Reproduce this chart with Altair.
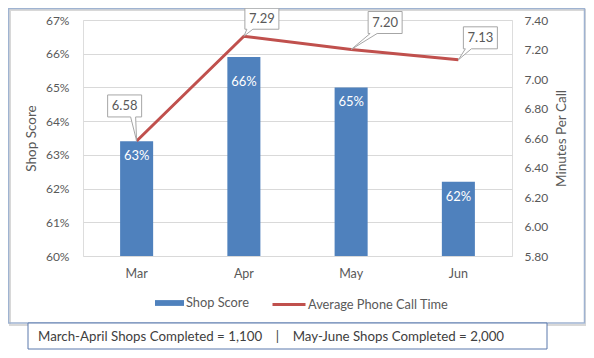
import altair as alt
import pandas as pd

# ---- data ----
months = ["Mar", "Apr", "May", "Jun"]
shop_score = [0.634, 0.659, 0.650, 0.622]
call_time = [6.58, 7.29, 7.20, 7.13]
score_ticks = [0.60, 0.61, 0.62, 0.63, 0.64, 0.65, 0.66, 0.67]
time_ticks = [5.8, 6.0, 6.2, 6.4, 6.6, 6.8, 7.0, 7.2, 7.4]
series_names = ["Shop Score", "Average Phone Call Time"]
NB = "\u00a0"
footnote = ["March-April Shops Completed = 1,100" + NB * 4 + "|" + NB * 4 + "May-June Shops Completed = 2,000"]

FONT = "Lato"
GRAY = "#595959"
BLUE = "#4F81BD"
RED = "#C0504D"

df = pd.DataFrame({"Month": months, "Score": shop_score, "Time": call_time})
df["S1"] = series_names[0]
df["S2"] = series_names[1]

base = alt.Chart(df)

X = alt.X("Month:N", sort=months,
          scale=alt.Scale(paddingInner=0.692, paddingOuter=0.346),
          axis=alt.Axis(title=None, labelAngle=0, ticks=False, domain=False,
                        labelPadding=11, labelColor=GRAY, labelFontSize=12.5,
                        labelFont=FONT))

YL = alt.Y("Score:Q",
           scale=alt.Scale(domain=[0.60, 0.67], nice=False, zero=False, clamp=True),
           axis=alt.Axis(values=score_ticks, format=".0%", title="Shop Score",
                         grid=True, gridColor="#D9D9D9", domain=False, ticks=False,
                         labelPadding=14, labelColor=GRAY, labelFontSize=12,
                         labelFont=FONT, titleFont=FONT, titleFontSize=13.5,
                         titleFontWeight="normal", titleColor=GRAY, titlePadding=7))

YR = alt.Y("Time:Q",
           scale=alt.Scale(domain=[5.8, 7.4], nice=False, zero=False),
           axis=alt.Axis(orient="right", values=time_ticks, format=".2f",
                         title="Minutes Per Call", grid=False, domain=False,
                         ticks=False, labelPadding=12, labelColor=GRAY,
                         labelFontSize=12, labelFont=FONT, titleFont=FONT,
                         titleFontSize=13.5, titleFontWeight="normal",
                         titleColor=GRAY, titleAngle=270, titleBaseline="top",
                         titlePadding=7))

bars = base.mark_bar().encode(
    x=X, y=YL,
    color=alt.Color("S1:N", scale=alt.Scale(domain=[series_names[0]], range=[BLUE]),
                    legend=alt.Legend(title=None, orient="none", legendX=72, legendY=268.5,
                                      symbolType="M-1,-0.2H1V0.2H-1Z", symbolSize=841,
                                      symbolStrokeWidth=0, labelOffset=2,
                                      labelFont=FONT, labelFontSize=12.8, labelColor=GRAY)),
)

def bar_label(filt, dy):
    return base.transform_filter(filt).mark_text(
        dy=dy, color="white", font=FONT, fontSize=13
    ).encode(x=X, y=YL, text=alt.Text("Score:Q", format=".0%"))

left = alt.layer(
    bars,
    bar_label(alt.datum.Month != "Apr", 15),
    bar_label(alt.datum.Month == "Apr", 25),
)

line = base.mark_line(strokeWidth=3).encode(
    x=X, y=YR,
    stroke=alt.Stroke("S2:N", scale=alt.Scale(domain=[series_names[1]], range=[RED]),
                      legend=alt.Legend(title=None, orient="none", legendX=188, legendY=266.5,
                                        symbolType="stroke", symbolSize=1089,
                                        symbolStrokeWidth=3, labelOffset=1,
                                        labelFont=FONT, labelFontSize=12.8, labelColor=GRAY)),
)

def callout(month, path, dx, dy):
    sel = base.transform_filter(alt.datum.Month == month)
    box = sel.mark_point(shape=path, size=4, filled=True, fill="white",
                         stroke="#A6A6A6", strokeWidth=1, opacity=1).encode(x=X, y=YR)
    txt = sel.mark_text(dx=dx, dy=dy, font=FONT, fontSize=13, color=GRAY).encode(
        x=X, y=YR, text=alt.Text("Time:Q", format=".2f"))
    return [box, txt]

right = alt.layer(
    line,
    *callout("Mar", "M-29,-46H5V-24H-1L0,0L-6,-24H-29Z", -12, -35),
    *callout("Apr", "M1,-28H35V-7H9L0,0L3,-7H1Z", 18, -17.5),
    *callout("May", "M17,-38H51V-16H26L0,0L19,-16H17Z", 34, -27),
    *callout("Jun", "M5,-33H39V-11H13L0,0L7,-11H5Z", 22, -22),
)

deco = alt.Chart(pd.DataFrame({"t": footnote}))
shadow = deco.mark_rect(fill=None, stroke="#D8D8D8", strokeWidth=2).encode(
    x=alt.value(-73), x2=alt.value(503), y=alt.value(-10), y2=alt.value(305))
frame = deco.mark_rect(fill=None, stroke="#9FB3D1", strokeWidth=1.5).encode(
    x=alt.value(-74.5), x2=alt.value(501.5), y=alt.value(-11.5), y2=alt.value(303))
foot_box = deco.mark_rect(fill="white", stroke="#5B79AC", strokeWidth=1).encode(
    x=alt.value(-55), x2=alt.value(464), y=alt.value(303), y2=alt.value(329))
foot_text = deco.mark_text(align="left", baseline="middle", font=FONT, fontSize=13.3,
                           color="#404040").encode(
    x=alt.value(-45), y=alt.value(317), text="t:N")

chart = alt.layer(
    shadow, frame, left, right, foot_box, foot_text
).resolve_scale(y="independent").properties(
    width=429, height=236,
    autosize=alt.AutoSizeParams(type="none"),
    padding={"left": 75, "top": 12, "right": 74, "bottom": 94},
).configure_view(stroke=None).configure(font=FONT)

chart.save("out.html", embed_options={"renderer": "svg", "actions": False})
